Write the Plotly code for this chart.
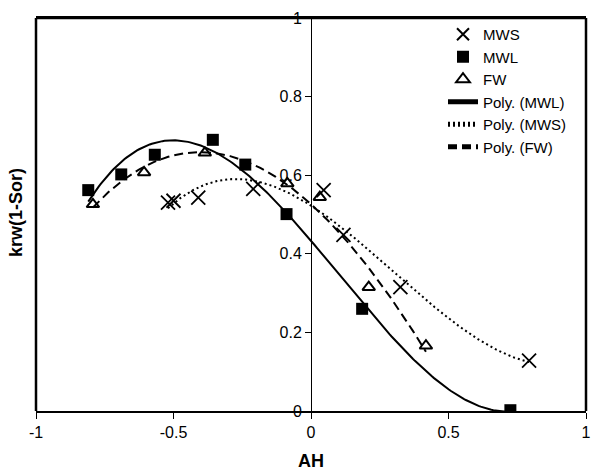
import numpy as np
import plotly.graph_objects as go

# ---- data ----
mws_x = [-0.52, -0.50, -0.41, -0.21, 0.046, 0.118, 0.325, 0.793]
mws_y = [0.530, 0.535, 0.543, 0.565, 0.562, 0.448, 0.315, 0.128]

mwl_x = [-0.81, -0.69, -0.568, -0.357, -0.239, -0.089, 0.186, 0.725]
mwl_y = [0.562, 0.602, 0.652, 0.690, 0.627, 0.501, 0.260, 0.002]

fw_x = [-0.793, -0.607, -0.386, -0.086, 0.032, 0.21, 0.418]
fw_y = [0.526, 0.607, 0.657, 0.579, 0.544, 0.315, 0.166]

x_ticks = [-1, -0.5, 0, 0.5, 1]
x_tick_labels = ["-1", "-0.5", "0", "0.5", "1"]
y_ticks = [0, 0.2, 0.4, 0.6, 0.8, 1]
y_tick_labels = ["0", "0.2", "0.4", "0.6", "0.8", "1"]

FONT = "Liberation Sans, Arial, sans-serif"


def poly_trend(xs, ys, deg=3, n=200):
    c = np.polyfit(xs, ys, deg)
    xx = np.linspace(min(xs), max(xs), n)
    return xx, np.polyval(c, xx)


fig = go.Figure()

fig.add_trace(go.Scatter(x=mws_x, y=mws_y, mode="markers", name="MWS",
                         marker=dict(symbol="x-thin", size=14, color="black",
                                     line=dict(width=1.8, color="black"))))
fig.add_trace(go.Scatter(x=mwl_x, y=mwl_y, mode="markers", name="MWL",
                         marker=dict(symbol="square", size=12, color="black")))
fig.add_trace(go.Scatter(x=fw_x, y=fw_y, mode="markers", name="FW",
                         marker=dict(symbol="triangle-up-open", size=11, color="black",
                                     line=dict(width=2, color="black"))))

tx, ty = poly_trend(mwl_x, mwl_y)
fig.add_trace(go.Scatter(x=tx, y=ty, mode="lines", name="Poly. (MWL)",
                         line=dict(color="black", width=2)))
tx, ty = poly_trend(mws_x, mws_y)
fig.add_trace(go.Scatter(x=tx, y=ty, mode="lines", name="Poly. (MWS)",
                         line=dict(color="black", width=2, dash="2px,3px")))
tx, ty = poly_trend(fw_x, fw_y)
fig.add_trace(go.Scatter(x=tx, y=ty, mode="lines", name="Poly. (FW)",
                         line=dict(color="black", width=2, dash="9px,5px")))

border = dict(color="black", width=2.5)
fig.update_layout(
    width=601, height=472,
    margin=dict(l=36, r=10, t=13, b=61),
    paper_bgcolor="white", plot_bgcolor="white",
    font=dict(family=FONT, size=16, color="black"),
    showlegend=True,
    legend=dict(x=0.74, y=1.0, xanchor="left", yanchor="top",
                bgcolor="rgba(0,0,0,0)", font=dict(size=15),
                tracegroupgap=0, itemsizing="constant"),
    xaxis=dict(range=[-1, 1], tickvals=x_ticks, ticktext=x_tick_labels,
               showgrid=False, zeroline=False, showline=True, linecolor="black",
               linewidth=2, mirror=True, ticks="outside", ticklen=6, tickwidth=1,
               tickcolor="black", tickfont=dict(size=16)),
    yaxis=dict(range=[0, 1], tickvals=y_ticks, ticktext=y_tick_labels,
               showgrid=False, zeroline=False, showline=True, linecolor="black",
               linewidth=1, ticks="outside", ticklen=6, tickwidth=1,
               tickcolor="black", anchor="free", position=0.5,
               tickfont=dict(size=16)),
    shapes=[
        dict(type="line", xref="paper", yref="paper", x0=0, x1=0, y0=0, y1=1,
             line=border, layer="above"),
        dict(type="line", xref="paper", yref="paper", x0=1, x1=1, y0=0, y1=1,
             line=border, layer="above"),
        dict(type="line", xref="paper", yref="paper", x0=0, x1=1, y0=1, y1=1,
             line=border, layer="above"),
    ],
    annotations=[
        dict(text="<b>AH</b>", xref="paper", yref="paper", x=0.5, y=-0.128,
             showarrow=False, font=dict(size=18), xanchor="center", yanchor="middle"),
        dict(text="<b>krw(1-Sor)</b>", xref="paper", yref="paper", x=-0.0375, y=0.505,
             showarrow=False, font=dict(size=18), textangle=-90,
             xanchor="center", yanchor="middle"),
    ],
)

fig.write_html(
    "out.html", config={"displayModeBar": False},
    post_script=("document.body.style.margin='0';document.body.style.padding='0';"
                 "document.body.style.overflow='hidden';"
                 "document.documentElement.style.overflow='hidden';"))
